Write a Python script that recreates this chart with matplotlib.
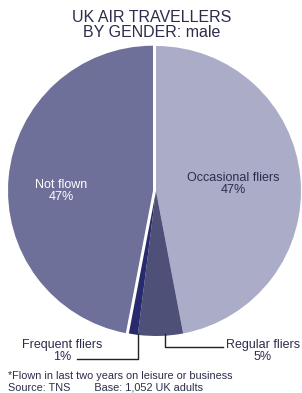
import matplotlib
matplotlib.use("Agg")
from matplotlib import pyplot as plt

plt.rcParams["font.family"] = ["Liberation Sans", "DejaVu Sans"]

# data
labels = ["Occasional fliers", "Regular fliers", "Frequent fliers", "Not flown"]
shares = [47, 5, 1, 47]
colors = ["#abacc7", "#4f5078", "#272a6c", "#6f7099"]

title = "UK AIR TRAVELLERS\nBY GENDER: male"
note1 = "*Flown in last two years on leisure or business"
note2 = "Source: TNS        Base: 1,052 UK adults"

W, H = 302, 393
fig = plt.figure(figsize=(W / 100, H / 100), dpi=100)
ax = fig.add_axes([0, 0, 1, 1])

def Y(y):
    return H - y

cx, cy, r = 156, 191, 145
# pie explode is in data units here (pixels)
explode = [0, 0, 0, 3]
wedges, _ = ax.pie(shares, colors=colors, startangle=90, counterclock=False,
                   explode=explode, center=(cx, Y(cy)), radius=r,
                   wedgeprops=dict(linewidth=0))
ax.set_xlim(0, W)
ax.set_ylim(0, H)
ax.set_aspect("equal")
ax.axis("off")

txt = "#2b2d4a"
ax.text(152, Y(25), title, ha="center", va="center", fontsize=11.5,
        color=txt, linespacing=1.0)

ax.text(61, Y(191), "Not flown\n%d%%" % shares[3], ha="center", va="center",
        fontsize=9, color="white", linespacing=0.95)
ax.text(233, Y(184), "Occasional fliers\n%d%%" % shares[0], ha="center",
        va="center", fontsize=9, color=txt, linespacing=0.95)

ax.text(62, Y(351), "Frequent fliers\n%d%%" % shares[2], ha="center",
        va="center", fontsize=9, color=txt, linespacing=0.95)
ax.plot([77, 138, 138], [Y(359), Y(359), Y(334)], color="#222", lw=1.0)

ax.text(263, Y(351), "Regular fliers\n%d%%" % shares[1], ha="center",
        va="center", fontsize=9, color=txt, linespacing=0.95)
ax.plot([165, 165, 223], [Y(334), Y(347), Y(347)], color="#222", lw=1.0)

ax.text(8, Y(376), note1, ha="left", va="center", fontsize=7.8, color=txt)
ax.text(8, Y(388), note2, ha="left", va="center", fontsize=7.8, color=txt)

fig.savefig("out.png", dpi=100, facecolor="white")
